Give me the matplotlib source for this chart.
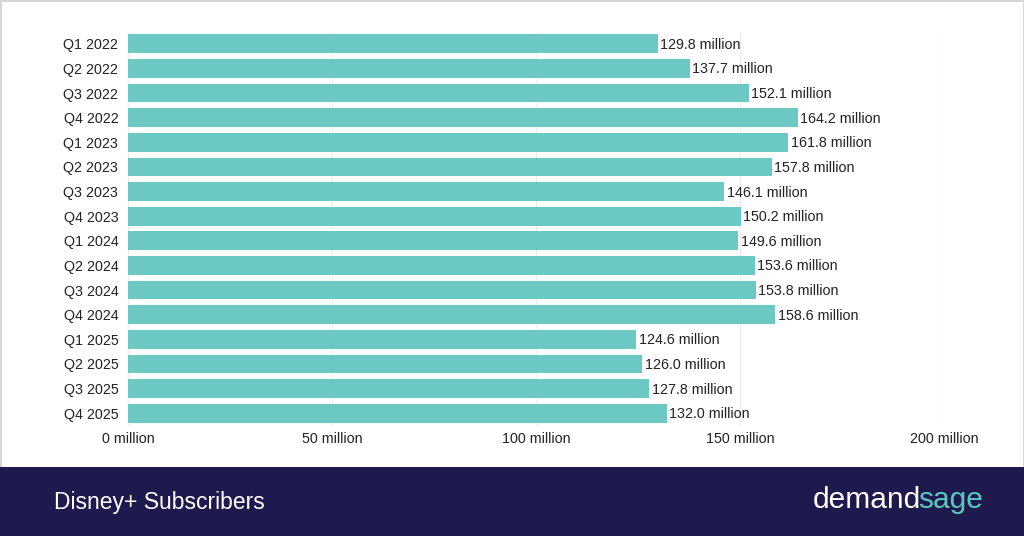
import matplotlib
matplotlib.use("Agg")
import matplotlib.pyplot as plt
from matplotlib.patches import Rectangle

quarters = ["Q1 2022", "Q2 2022", "Q3 2022", "Q4 2022",
            "Q1 2023", "Q2 2023", "Q3 2023", "Q4 2023",
            "Q1 2024", "Q2 2024", "Q3 2024", "Q4 2024",
            "Q1 2025", "Q2 2025", "Q3 2025", "Q4 2025"]
subscribers = [129.8, 137.7, 152.1, 164.2,
               161.8, 157.8, 146.1, 150.2,
               149.6, 153.6, 153.8, 158.6,
               124.6, 126.0, 127.8, 132.0]
x_ticks = [0, 50, 100, 150, 200]
title = "Disney+ Subscribers"

plt.rcParams['font.family'] = ['Liberation Sans', 'DejaVu Sans']

fig = plt.figure(figsize=(10.24, 5.36), dpi=100)
W, H = 1024, 536
fig.patch.set_facecolor("white")
fig.patch.set_edgecolor("#d6d6d6")
fig.patch.set_linewidth(2)

# footer
fig.patches.append(Rectangle((0, 0), 1, 69 / H, transform=fig.transFigure,
                             facecolor="#1f1a4e", edgecolor="none", zorder=1))

ax = fig.add_axes([128 / W, 1 - 425.5 / H, 816 / W, (425.5 - 31.5) / H])
ax.set_zorder(2)
ax.patch.set_alpha(0)
y = list(range(len(quarters)))
ax.barh(y, subscribers, height=0.76, color="#6cc8c2", zorder=3)
for yi, v in zip(y, subscribers):
    ax.text(v + 0.6, yi + 0.04, f"{v:.1f} million", va="center", ha="left",
            fontsize=10.3, color="#222222", zorder=4)

ax.set_ylim(len(quarters) - 0.5, -0.5)
ax.set_xlim(0, 200)
ax.set_yticks(y)
ax.set_yticklabels(quarters, fontsize=10.3, color="#222222")
ax.set_xticks(x_ticks)
ax.set_xticklabels([f"{t} million" for t in x_ticks], fontsize=10.3, color="#222222")
ax.tick_params(length=0, pad=7)
ax.tick_params(axis="x", pad=5)
for s in ax.spines.values():
    s.set_visible(False)
ax.grid(axis="x", color="#ececec", linewidth=0.8, zorder=0)
ax.set_axisbelow(True)

fig.text(54 / W, 34 / H, title, fontsize=16.5, color="white", va="center", ha="left", zorder=3)
t1 = fig.text(813 / W, 36 / H, "demand", fontsize=21.5, color="white", va="center",
              ha="left", zorder=3)
fig.canvas.draw()
bb = t1.get_window_extent()
fig.text((bb.x1 - 3) / W, 36 / H, "sage", fontsize=21.5, color="#5cc6c0", va="center",
         ha="left", zorder=3)

fig.savefig("out.png", dpi=100)
